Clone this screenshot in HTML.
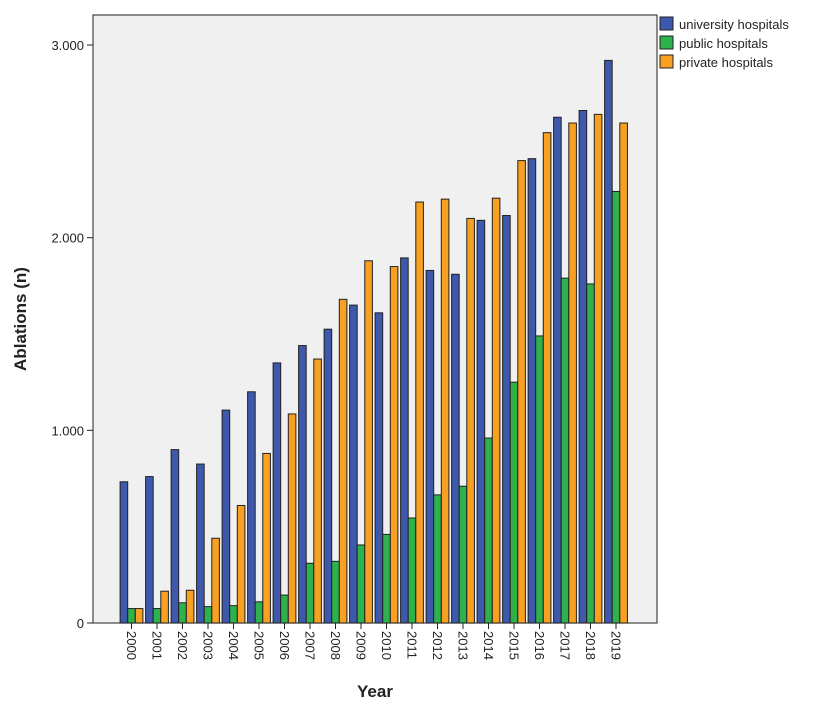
<!DOCTYPE html>
<html><head><meta charset="utf-8"><style>
body{margin:0;background:#fff;font-family:"Liberation Sans",Arial,sans-serif}
</style></head><body>
<svg id="chart" width="820" height="710" xmlns="http://www.w3.org/2000/svg" font-family="Liberation Sans, Arial, sans-serif">
<rect x="93" y="15" width="564" height="608" fill="#f0f0f0" stroke="#444" stroke-width="1.2"/>
<g id="bars"></g>
<g id="axes"></g>
<text transform="translate(26,319) rotate(-90)" text-anchor="middle" font-size="17" font-weight="bold" fill="#222">Ablations (n)</text>
<text x="375" y="697" text-anchor="middle" font-size="17" font-weight="bold" fill="#222">Year</text>
<g font-size="13" fill="#222">
<rect x="660" y="17" width="13" height="13" fill="#3e58ac" stroke="#222"/>
<text x="679" y="29">university hospitals</text>
<rect x="660" y="36" width="13" height="13" fill="#2fb24b" stroke="#222"/>
<text x="679" y="48">public hospitals</text>
<rect x="660" y="55" width="13" height="13" fill="#f7a021" stroke="#222"/>
<text x="679" y="67">private hospitals</text>
</g>
</svg>
<script>
const years=[2000,2001,2002,2003,2004,2005,2006,2007,2008,2009,2010,2011,2012,2013,2014,2015,2016,2017,2018,2019];
const university=[733,760,900,825,1105,1200,1350,1440,1525,1650,1610,1895,1830,1810,2090,2115,2410,2625,2660,2920];
const publicH=[75,75,105,85,90,110,145,310,320,405,460,545,665,710,960,1250,1490,1790,1760,2240];
const privateH=[75,165,170,440,610,880,1085,1370,1680,1880,1850,2185,2200,2100,2205,2400,2545,2595,2640,2595];
const yTicks=[0,1000,2000,3000];
const yTickLabels=["0","1.000","2.000","3.000"];
const NS="http://www.w3.org/2000/svg";
const y0=623, pxPer=578/3000;
const yScale=v=>y0-v*pxPer;
const groupW=25.5, x0=131.5, bw=7.6;
const xCenter=i=>x0+i*groupW;
const series=[[university,"#3e58ac","university"],[publicH,"#2fb24b","public"],[privateH,"#f7a021","private"]];
const bars=document.getElementById('bars'), axes=document.getElementById('axes');
years.forEach((yr,i)=>{
  series.forEach(([arr,col,nm],k)=>{
    const r=document.createElementNS(NS,'rect');
    const x=xCenter(i)+(k-1.5)*bw;
    r.setAttribute('x',x);r.setAttribute('width',bw);
    r.setAttribute('y',yScale(arr[i]));r.setAttribute('height',y0-yScale(arr[i]));
    r.setAttribute('fill',col);r.setAttribute('stroke','#222');r.setAttribute('stroke-width','1');
    
    
    bars.appendChild(r);
  });
  const t=document.createElementNS(NS,'line');
  t.setAttribute('x1',xCenter(i));t.setAttribute('x2',xCenter(i));t.setAttribute('y1',y0);t.setAttribute('y2',y0+6);
  t.setAttribute('stroke','#222');
  
  
  axes.appendChild(t);
  const tx=document.createElementNS(NS,'text');
  tx.setAttribute('transform','translate('+(xCenter(i)-4.5)+','+(y0+8)+') rotate(90)');
  tx.setAttribute('font-size','13');tx.setAttribute('fill','#222');
  tx.textContent=yr;
  
  
  axes.appendChild(tx);
});
yTicks.forEach((v,i)=>{
  const l=document.createElementNS(NS,'line');
  l.setAttribute('x1',87);l.setAttribute('x2',93);l.setAttribute('y1',yScale(v));l.setAttribute('y2',yScale(v));
  l.setAttribute('stroke','#222');
  
  
  axes.appendChild(l);
  const tx=document.createElementNS(NS,'text');
  tx.setAttribute('x',84);tx.setAttribute('y',yScale(v)+5);tx.setAttribute('text-anchor','end');
  tx.setAttribute('font-size','13');tx.setAttribute('fill','#222');
  tx.textContent=yTickLabels[i];
  
  
  axes.appendChild(tx);
});
</script>
</body></html>
